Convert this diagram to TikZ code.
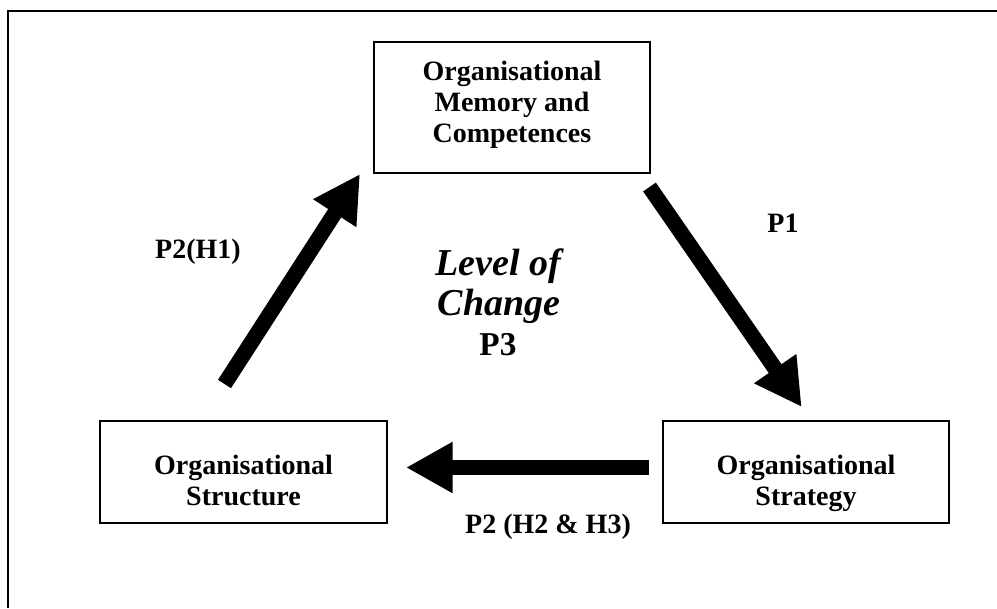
\documentclass[tikz,border=0pt]{standalone}
\usepackage{fontspec}
\setmainfont{Liberation Serif}
\usetikzlibrary{arrows.meta}
\tikzset{
  box/.style={draw=black, line width=1pt, inner sep=0pt, align=center,
    font=\bfseries\fontsize{21}{23.25}\selectfont},
  lbl/.style={anchor=base, inner sep=0pt, font=\bfseries\fontsize{21}{23.25}\selectfont},
  bigital/.style={anchor=base, inner sep=0pt, font=\bfseries\itshape\fontsize{28.5}{30}\selectfont},
  bigbold/.style={anchor=base, inner sep=0pt, font=\bfseries\fontsize{25}{30}\selectfont},
  fat/.style={line width=11.6pt, line cap=butt, -{Triangle[length=35pt,width=36pt]}}
}
\newcommand{\lowstack}[1]{\raisebox{-14pt}[0pt][0pt]{\begin{tabular}{@{}c@{}}#1\end{tabular}}}
\newcommand{\highstack}[1]{\raisebox{-3.75pt}[0pt][0pt]{\begin{tabular}{@{}c@{}}#1\end{tabular}}}
\begin{document}
\begin{tikzpicture}[x=0.75pt, y=-0.75pt]
\useasboundingbox (0,0) rectangle (997,608);
% outer frame (right and bottom sides lie outside the picture)
\draw[line width=1.1pt] (997,11) -- (8,11) -- (8,608);

% boxes
\node[box, minimum width=276*0.75pt, minimum height=131*0.75pt] (mem) at (512,107.5)
  {\highstack{Organisational\\Memory and\\Competences}};
\node[box, minimum width=287*0.75pt, minimum height=102*0.75pt] (str) at (243.5,472)
  {\lowstack{Organisational\\Structure}};
\node[box, minimum width=286*0.75pt, minimum height=102*0.75pt] (stg) at (806,472)
  {\lowstack{Organisational\\Strategy}};

% arrow end points
\coordinate (a1s) at (224.5,384);
\coordinate (a1e) at (360,174);
\coordinate (a2s) at (649.5,187);
\coordinate (a2e) at (801.7,407);
\coordinate (a3s) at (649.3,467.5);
\coordinate (a3e) at (406,467.5);

\draw[fat] (a1s) -- (a1e);
\draw[fat] (a2s) -- (a2e);
\draw[fat] (a3s) -- (a3e);

% labels
\node[lbl] (p1) at (783,232) {P1};
\node[lbl] (p2h1) at (198,258) {P2(H1)};
\node[lbl] (p2h23) at (548,533) {P2 (H2 \& H3)};
\node[bigital] (lv1) at (498,275) {Level of};
\node[bigital] (lv2) at (499,315) {Change};
\node[bigbold] (p3) at (498,355) {P3};
\end{tikzpicture}
\end{document}
